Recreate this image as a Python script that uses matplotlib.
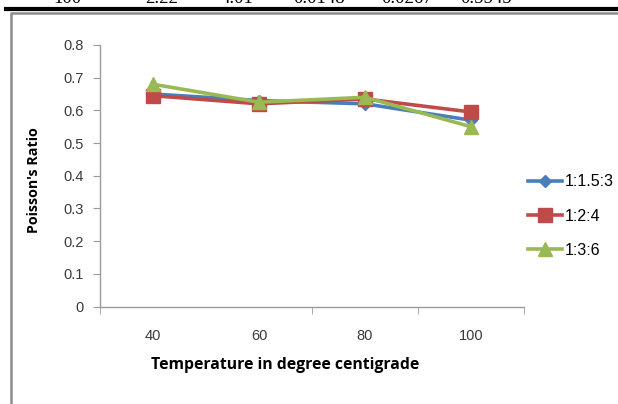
import matplotlib
matplotlib.use("Agg")
import matplotlib.pyplot as plt
from matplotlib.lines import Line2D

temps = ["40", "60", "80", "100"]
series_names = ["1:1.5:3", "1:2:4", "1:3:6"]
s_115_3 = [0.650, 0.630, 0.620, 0.570]
s_124 = [0.645, 0.620, 0.635, 0.595]
s_136 = [0.680, 0.625, 0.640, 0.550]
yticks = [0, 0.1, 0.2, 0.3, 0.4, 0.5, 0.6, 0.7, 0.8]
ytick_labels = ["0", "0.1", "0.2", "0.3", "0.4", "0.5", "0.6", "0.7", "0.8"]
table_row = ["100", "2.22", "4.01", "0.0148", "0.0267", "0.5545"]

W, H = 618, 404
fig = plt.figure(figsize=(W/100, H/100), dpi=100)
fig.patch.set_facecolor("white")

# clipped table row at the top (only the lower part of the digits is visible)
tx = [67, 162, 237, 319, 407, 486]
for x, t in zip(tx, table_row):
    fig.text(x/W, 1 - 3/H, t, family="Liberation Serif", fontsize=13.5,
             ha="center", va="baseline", color="black")
fig.add_artist(Line2D([6/W, 1], [1 - 9/H, 1 - 9/H], color="black", lw=3))
# outer chart frame
fig.add_artist(Line2D([11/W, 11/W, 1], [0, 1 - 13/H, 1 - 13/H], color="#8c8c8c", lw=1.8))

ax = fig.add_axes([100/W, 1 - 306.5/H, 424/W, (306.5 - 45)/H])
x = list(range(len(temps)))
colors = ["#4A7EBB", "#BE4B48", "#98B954"]
markers = ["D", "s", "^"]
msizes = [6, 9.5, 10.5]
data = [s_115_3, s_124, s_136]
for vals, c, m, ms, name in zip(data, colors, markers, msizes, series_names):
    ax.plot(x, vals, color=c, lw=2.6, marker=m, markersize=ms, markeredgecolor=c,
            markerfacecolor=c, label=name)

ax.set_xlim(-0.5, len(temps) - 0.5)
ax.set_ylim(0, 0.8)
ax.set_yticks(yticks)
ax.set_yticklabels(ytick_labels)
ax.set_xticks(x)
ax.set_xticklabels(temps)
ax.set_xticks([-0.5, 1.5, 2.5, 3.5], minor=True)
ax.tick_params(axis="x", which="major", length=0, pad=16, labelsize=10.5, labelcolor="#3a3a3a")
ax.tick_params(axis="x", which="minor", length=5, color="#9a9a9a", direction="out")
ax.tick_params(axis="y", length=5, color="#9a9a9a", direction="out", pad=7,
               labelsize=10.5, labelcolor="#3a3a3a")
for lab in ax.get_xticklabels() + ax.get_yticklabels():
    lab.set_family("Liberation Sans")
for s in ["top", "right"]:
    ax.spines[s].set_visible(False)
for s in ["left", "bottom"]:
    ax.spines[s].set_color("#9a9a9a")
    ax.spines[s].set_linewidth(1.0)

ax.set_ylabel("Poisson's Ratio", family="Open Sans", fontweight="bold", fontsize=10.3)
ax.yaxis.set_label_coords((34 - 100) / 424, 1 - (180 - 45) / (306.5 - 45))
ax.set_xlabel("Temperature in degree centigrade", family="Open Sans", fontweight="bold",
              fontsize=11.3)
ax.xaxis.set_label_coords((285 - 100) / 424, -(365 - 306.5) / (306.5 - 45))
ax.xaxis.label.set_va("center")
ax.yaxis.label.set_va("center")

leg = fig.legend(loc="upper left", bbox_to_anchor=(522/W, 1 - 168/H), frameon=False,
                 prop={"family": "Liberation Sans", "size": 11.5}, labelspacing=1.2,
                 handlelength=2.1, handletextpad=0.15, borderaxespad=0)

fig.savefig("out.png", dpi=100)
